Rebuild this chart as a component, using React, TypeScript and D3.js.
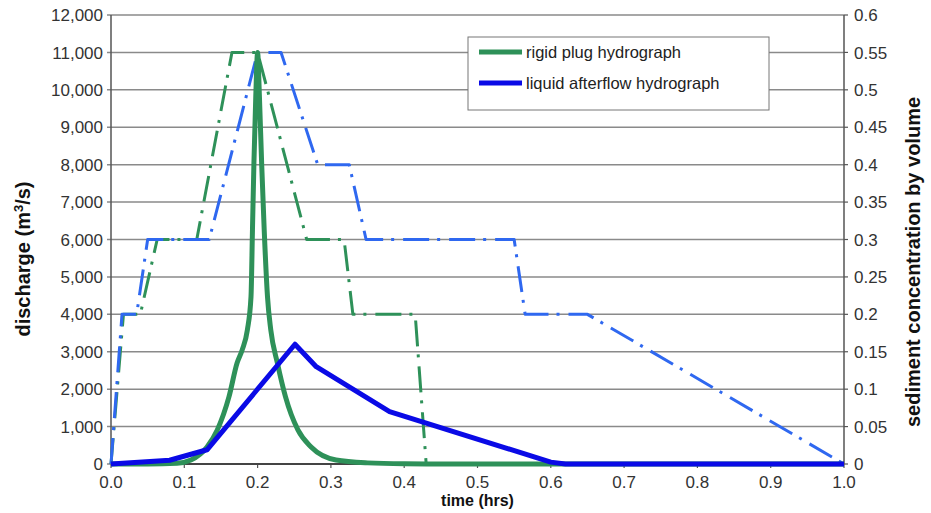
import * as d3 from "d3";

const W = 931;
const H = 513;
const MARGIN = { top: 15, left: 111, right: 87, bottom: 49 };

// tick labels
const timeTicks = [0, 0.1, 0.2, 0.3, 0.4, 0.5, 0.6, 0.7, 0.8, 0.9, 1.0];
const dischargeTicks = [0, 1000, 2000, 3000, 4000, 5000, 6000, 7000, 8000, 9000, 10000, 11000, 12000];
const concTicks = [0, 0.05, 0.1, 0.15, 0.2, 0.25, 0.3, 0.35, 0.4, 0.45, 0.5, 0.55, 0.6];

// rigid plug hydrograph (discharge, m3/s)
const rigidTime = [0, 0.05, 0.09, 0.109, 0.131, 0.145, 0.161, 0.172, 0.179, 0.186, 0.191, 0.193, 0.195, 0.1975, 0.2, 0.2025, 0.2055, 0.209, 0.2135, 0.218, 0.227, 0.238, 0.255, 0.273, 0.307, 0.35, 0.4, 0.45, 1.0];
const rigidQ = [0, 0, 20, 107, 455, 910, 1800, 2700, 3050, 3580, 4470, 6260, 8050, 9810, 11000, 9810, 8050, 6260, 4470, 3580, 2700, 1800, 910, 455, 107, 30, 5, 0, 0];

// liquid afterflow hydrograph (discharge, m3/s)
const liquidTime = [0, 0.08, 0.131, 0.251, 0.28, 0.38, 0.6, 0.62, 1.0];
const liquidQ = [0, 100, 380, 3200, 2600, 1400, 50, 0, 0];

// sediment concentration by volume, rigid plug (dash-dot green)
const rigidConcTime = [0, 0.017, 0.04, 0.063, 0.117, 0.165, 0.2, 0.267, 0.318, 0.33, 0.415, 0.43, 1.0];
const rigidConc = [0, 0.2, 0.2, 0.3, 0.3, 0.55, 0.55, 0.3, 0.3, 0.2, 0.2, 0, 0];

// sediment concentration by volume, liquid afterflow (dash-dot blue)
const liquidConcTime = [0, 0.015, 0.035, 0.05, 0.134, 0.2, 0.232, 0.282, 0.325, 0.348, 0.55, 0.565, 0.65, 1.0];
const liquidConc = [0, 0.2, 0.2, 0.3, 0.3, 0.55, 0.55, 0.4, 0.4, 0.3, 0.3, 0.2, 0.2, 0];

const GREEN = "#2e9159";
const BLUE = "#0a0ae6";
const LIGHTBLUE = "#2f68f0";
const GRID = "#8a8a8a";
const FONT = "'Liberation Sans', Arial, sans-serif";

export default function App() {
  const boundsWidth = W - MARGIN.left - MARGIN.right;
  const boundsHeight = H - MARGIN.top - MARGIN.bottom;

  const xScale = d3.scaleLinear().domain([0, 1]).range([0, boundsWidth]);
  const yScale = d3.scaleLinear().domain([0, 12000]).range([boundsHeight, 0]);
  const y2Scale = d3.scaleLinear().domain([0, 0.6]).range([boundsHeight, 0]);

  const makePath = (
    ts: number[],
    vs: number[],
    sc: d3.ScaleLinear<number, number>,
    curve: d3.CurveFactory = d3.curveLinear
  ) =>
    d3
      .line<number>()
      .x((t) => xScale(t))
      .y((_, i) => sc(vs[i]))
      .curve(curve)(ts) || "";

  const fmt = d3.format(",");

  const legendX = 468 - MARGIN.left;
  const legendY = 37 - MARGIN.top;

  return (
    <div style={{ position: "fixed", left: 0, top: 0, width: W, height: H, background: "#fff" }}>
      <svg width={W} height={H} style={{ display: "block", fontFamily: FONT }}>
        <rect width={W} height={H} fill="#fff" />
        <g transform={`translate(${MARGIN.left},${MARGIN.top})`}>
          {/* grid */}
          {dischargeTicks.map((v) => (
            <g key={v}>
              <line x1={-4} x2={boundsWidth} y1={yScale(v)} y2={yScale(v)} stroke={GRID} strokeWidth={1.5} />
              <text x={-8} y={yScale(v)} dy="0.36em" textAnchor="end" fontSize={17} fill="#333">
                {fmt(v)}
              </text>
            </g>
          ))}
          {concTicks.map((v) => (
            <g key={v}>
              <line x1={boundsWidth} x2={boundsWidth + 4} y1={y2Scale(v)} y2={y2Scale(v)} stroke="#555" strokeWidth={1.2} />
              <text x={boundsWidth + 10} y={y2Scale(v)} dy="0.36em" textAnchor="start" fontSize={17} fill="#333">
                {String(+v.toFixed(2))}
              </text>
            </g>
          ))}
          {timeTicks.map((t) => (
            <g key={t}>
              <line x1={xScale(t)} x2={xScale(t)} y1={boundsHeight} y2={boundsHeight + 4} stroke="#555" strokeWidth={1.2} />
              <text x={xScale(t)} y={boundsHeight + 24} textAnchor="middle" fontSize={17} fill="#333">
                {t.toFixed(1)}
              </text>
            </g>
          ))}
          <line x1={0} x2={0} y1={0} y2={boundsHeight} stroke="#555" strokeWidth={1.5} />
          <line x1={boundsWidth} x2={boundsWidth} y1={0} y2={boundsHeight} stroke="#555" strokeWidth={1.5} />
          <line x1={0} x2={boundsWidth} y1={boundsHeight} y2={boundsHeight} stroke="#444" strokeWidth={1.8} />

          {/* legend box */}
          <rect x={legendX} y={legendY} width={301} height={73} fill="#fff" stroke="#777" strokeWidth={1} />
          <line x1={legendX + 11} x2={legendX + 54} y1={52 - MARGIN.top} y2={52 - MARGIN.top} stroke={GREEN} strokeWidth={5} />
          <text x={legendX + 58} y={52 - MARGIN.top} dy="0.35em" fontSize={16.5} fill="#222">
            rigid plug hydrograph
          </text>
          <line x1={legendX + 11} x2={legendX + 54} y1={83 - MARGIN.top} y2={83 - MARGIN.top} stroke={BLUE} strokeWidth={5} />
          <text x={legendX + 58} y={83 - MARGIN.top} dy="0.35em" fontSize={16.5} fill="#222">
            liquid afterflow hydrograph
          </text>

          {/* concentration dash-dot lines */}
          <path
            d={makePath(rigidConcTime, rigidConc, y2Scale)}
            fill="none"
            stroke={GREEN}
            strokeWidth={3}
            strokeDasharray="26 8 3 9"
            strokeLinejoin="round"
          />
          <path
            d={makePath(liquidConcTime, liquidConc, y2Scale)}
            fill="none"
            stroke={LIGHTBLUE}
            strokeWidth={3}
            strokeDasharray="26 8 3 9"
            strokeLinejoin="round"
          />

          {/* discharge hydrographs */}
          <path
            d={makePath(rigidTime, rigidQ, yScale, d3.curveMonotoneX)}
            fill="none"
            stroke={GREEN}
            strokeWidth={5}
            strokeLinejoin="round"
          />
          <path
            d={makePath(liquidTime, liquidQ, yScale)}
            fill="none"
            stroke={BLUE}
            strokeWidth={5}
            strokeLinejoin="round"
          />
        </g>

        {/* axis titles */}
        <text x={MARGIN.left + boundsWidth / 2} y={506} textAnchor="middle" fontSize={16} fontWeight="bold" fill="#111">
          time (hrs)
        </text>
        <text
          transform="translate(30,259) rotate(-90)"
          textAnchor="middle"
          fontSize={20}
          fontWeight="bold"
          fill="#111"
        >
          discharge (m<tspan dy={-7} fontSize={13}>3</tspan>
          <tspan dy={7}>/s)</tspan>
        </text>
        <text
          transform="translate(920,262) rotate(-90)"
          textAnchor="middle"
          fontSize={20}
          fontWeight="bold"
          fill="#111"
        >
          sediment concentration by volume
        </text>
      </svg>
    </div>
  );
}
